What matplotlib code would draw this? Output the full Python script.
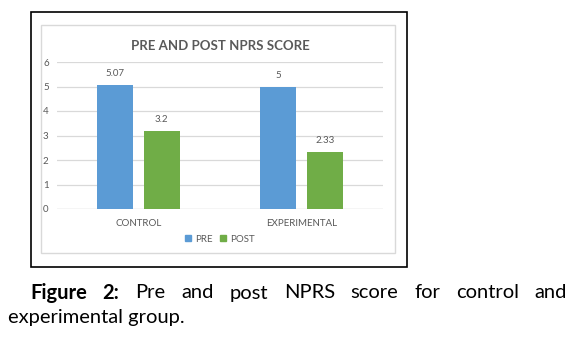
import matplotlib
matplotlib.use("Agg")
import matplotlib.pyplot as plt
import numpy as np
from matplotlib.patches import Rectangle, Patch

# NPRS scores, pre and post treatment
groups = ["CONTROL", "EXPERIMENTAL"]
pre_scores = [5.07, 5.0]
post_scores = [3.2, 2.33]
pre_labels = ["5.07", "5"]
post_labels = ["3.2", "2.33"]
y_ticks = [0, 1, 2, 3, 4, 5, 6]

PRE_COLOR = "#5B9BD5"
POST_COLOR = "#70AD47"
TXT = "#595959"
GRID = "#D9D9D9"

plt.rcParams["font.family"] = ["Lato", "DejaVu Sans"]

W, H = 575, 344
fig = plt.figure(figsize=(W / 100, H / 100), dpi=100)

def px(x0, y0, x1, y1):
    # pixel box (top-left origin) -> figure fraction rect
    return [x0 / W, 1 - y1 / H, (x1 - x0) / W, (y1 - y0) / H]

# outer black frame and inner chart-area frame
r = px(31, 12, 407, 267)
fig.patches.append(Rectangle((r[0], r[1]), r[2], r[3], transform=fig.transFigure,
                             fill=False, ec="black", lw=1.2))
r = px(41, 25, 395, 253)
fig.patches.append(Rectangle((r[0], r[1]), r[2], r[3], transform=fig.transFigure,
                             fill=False, ec=GRID, lw=1.0))

ax = fig.add_axes(px(57, 62, 383, 209))
x = np.arange(len(groups))
w = 0.224
off = 0.143
b1 = ax.bar(x - off, pre_scores, w, color=PRE_COLOR, zorder=3)
b2 = ax.bar(x + off, post_scores, w, color=POST_COLOR, zorder=3)

for bars, labs in ((b1, pre_labels), (b2, post_labels)):
    for bar, lab in zip(bars, labs):
        ax.annotate(lab, (bar.get_x() + bar.get_width() / 2, bar.get_height()),
                    xytext=(0, 5), textcoords="offset points",
                    ha="center", va="bottom", fontsize=7, color=TXT)

ax.set_xlim(-0.5, 1.5)
ax.set_ylim(0, 6)
ax.set_yticks(y_ticks)
ax.set_xticks(x)
ax.set_xticklabels(groups)
ax.tick_params(axis="y", length=0, pad=6, labelsize=7, labelcolor=TXT)
ax.tick_params(axis="x", length=0, pad=7, labelsize=7, labelcolor=TXT)
ax.yaxis.grid(True, color=GRID, lw=0.9, zorder=0)
for s in ax.spines.values():
    s.set_visible(False)
ax.axhline(0, color=GRID, lw=0.9, zorder=2)
ax.set_facecolor("none")

fig.text(220 / W, 1 - 46 / H, "PRE AND POST NPRS SCORE", ha="center", va="center",
         fontsize=9.5, fontweight="bold", color=TXT)

fig.legend(handles=[Patch(color=PRE_COLOR, label="PRE"), Patch(color=POST_COLOR, label="POST")],
           loc="center", bbox_to_anchor=(220 / W, 1 - 239 / H), ncol=2, frameon=False,
           fontsize=7, labelcolor=TXT, handlelength=0.6, handleheight=0.6,
           handletextpad=0.4, columnspacing=0.8)

# justified caption, first line spread between the margins
fig.canvas.draw()
rend = fig.canvas.get_renderer()
line1 = [("Figure", "bold"), ("2:", "bold"), ("Pre", "normal"), ("and", "normal"),
         ("post", "normal"), ("NPRS", "normal"), ("score", "normal"), ("for", "normal"),
         ("control", "normal"), ("and", "normal")]
cap_size = 14.5
texts = []
for word, weight in line1:
    t = fig.text(0, 1 - 293 / H, word, ha="left", va="center", fontsize=cap_size,
                 fontweight=weight, color="black")
    texts.append(t)
widths = [t.get_window_extent(rend).width for t in texts]
left, right = 30, 567
gap = (right - left - sum(widths)) / (len(texts) - 1)
xpos = left
for t, wd in zip(texts, widths):
    t.set_x(xpos / W)
    xpos += wd + gap

fig.text(8 / W, 1 - 318 / H, "experimental group.", ha="left", va="center",
         fontsize=cap_size, color="black")

fig.savefig("out.png", dpi=100)
